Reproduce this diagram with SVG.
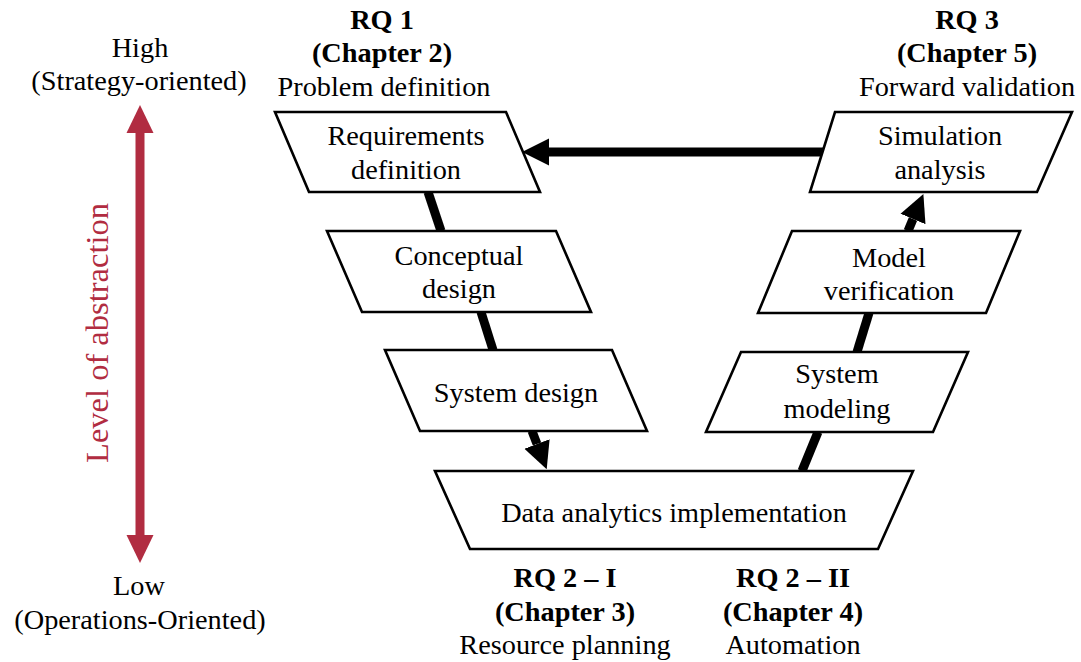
<svg xmlns="http://www.w3.org/2000/svg" width="1081" height="662" viewBox="0 0 1081 662">
  <style>
    text { font-family: "Liberation Serif", "Times New Roman", serif; font-size: 28.3px; fill: #000; text-anchor: middle; }
    .b { font-weight: bold; }
    .box { fill: #fff; stroke: #000; stroke-width: 2.6; stroke-linejoin: miter; }
    .conn { stroke: #000; stroke-width: 9; fill: none; }
    .axis { fill: #B12C41; }
    .axis-label { fill: #B12C41; font-size: 32.5px; }
  </style>
  <defs>
    <marker id="head" viewBox="0 0 10 10" refX="0" refY="5" markerWidth="3" markerHeight="3.1" markerUnits="strokeWidth" orient="auto">
      <path d="M0,0 L10,5 L0,10 z" fill="#000"/>
    </marker>
  </defs>

  <!-- abstraction axis -->
  <g id="axis">
    <rect class="axis" x="135.5" y="132" width="9" height="404"/>
    <polygon class="axis" points="140,105 126.5,133 153.5,133"/>
    <polygon class="axis" points="140,563 126.5,535 153.5,535"/>
    <text class="axis-label" transform="translate(108,333) rotate(-90)">Level of abstraction</text>
    <text x="140" y="57">High</text>
    <text x="139" y="90">(Strategy-oriented)</text>
    <text x="139" y="595">Low</text>
    <text x="140" y="629">(Operations-Oriented)</text>
  </g>

  <!-- research question labels -->
  <g id="rq1">
    <text class="b" x="382" y="29">RQ 1</text>
    <text class="b" x="382" y="62">(Chapter 2)</text>
    <text x="384" y="96">Problem definition</text>
  </g>
  <g id="rq3">
    <text class="b" x="967" y="29">RQ 3</text>
    <text class="b" x="967" y="62">(Chapter 5)</text>
    <text x="967" y="96">Forward validation</text>
  </g>
  <g id="rq2-1">
    <text class="b" x="565" y="587">RQ 2 – I</text>
    <text class="b" x="565" y="621">(Chapter 3)</text>
    <text x="565" y="654">Resource planning</text>
  </g>
  <g id="rq2-2">
    <text class="b" x="793" y="587">RQ 2 – II</text>
    <text class="b" x="793" y="621">(Chapter 4)</text>
    <text x="793" y="654">Automation</text>
  </g>

  <!-- connectors -->
  <g id="connectors">
    <line class="conn" x1="428" y1="192" x2="441" y2="231"/>
    <line class="conn" x1="481" y1="312" x2="493" y2="350"/>
    <line class="conn" x1="532" y1="431" x2="537" y2="444" marker-end="url(#head)"/>
    <line class="conn" x1="802" y1="471" x2="818" y2="432"/>
    <line class="conn" x1="857" y1="352" x2="869" y2="313"/>
    <line class="conn" x1="908" y1="231" x2="913" y2="219" marker-end="url(#head)"/>
    <line class="conn" x1="830" y1="152" x2="549" y2="152" marker-end="url(#head)"/>
  </g>

  <!-- process steps -->
  <g id="requirements-definition">
    <polygon class="box" points="275,112 506,112 540,192 309,192"/>
    <text x="406" y="145">Requirements</text>
    <text x="406" y="179">definition</text>
  </g>
  <g id="conceptual-design">
    <polygon class="box" points="327,231 556,231 591,312 362,312"/>
    <text x="459" y="265">Conceptual</text>
    <text x="459" y="298">design</text>
  </g>
  <g id="system-design">
    <polygon class="box" points="385,350 612,350 647,431 420,431"/>
    <text x="516" y="402">System design</text>
  </g>
  <g id="data-analytics-implementation">
    <polygon class="box" points="435,471 913,471 878,549 470,549"/>
    <text x="674" y="522">Data analytics implementation</text>
  </g>
  <g id="system-modeling">
    <polygon class="box" points="741,352 968,352 933,432 706,432"/>
    <text x="837" y="383">System</text>
    <text x="837" y="418">modeling</text>
  </g>
  <g id="model-verification">
    <polygon class="box" points="792,231 1020,231 986,313 758,313"/>
    <text x="889" y="267">Model</text>
    <text x="889" y="300">verification</text>
  </g>
  <g id="simulation-analysis">
    <polygon class="box" points="835,112 1072,112 1037,192 810,192"/>
    <text x="940" y="145">Simulation</text>
    <text x="940" y="179">analysis</text>
  </g>
</svg>
